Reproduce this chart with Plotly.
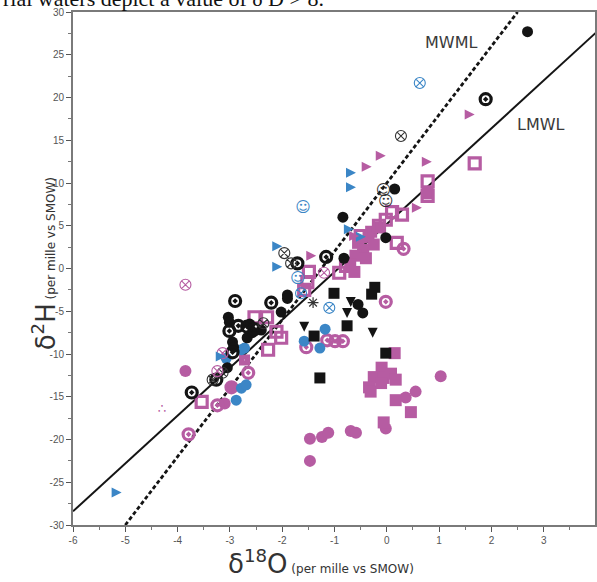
import plotly.graph_objects as go

# ---- isotope data (delta 18O, delta 2H), grouped by marker style ----
black_dot_x = [2.69, 0.15, -0.84, -0.02, -0.82, -1.90, -1.90, -2.02, -0.55, -0.46, -3.03, -3.01, -2.95, -2.93, -3.05, -2.67, -2.57, -2.40, -2.62]
black_dot_y = [27.7, 9.3, 6.0, 3.6, 1.2, -3.1, -3.5, -5.1, -4.2, -5.2, -5.7, -6.3, -8.6, -9.2, -11.6, -8.1, -7.5, -7.2, -6.5]

black_ring_x = [1.89, -1.16, -1.71, -2.90, -2.21, -3.01, -2.84, -2.67, -2.53, -2.95, -3.26, -3.73]
black_ring_y = [19.8, 1.35, 0.6, -3.8, -4.0, -7.3, -6.7, -6.8, -7.1, -9.8, -13.0, -14.5]

black_cross_x = [0.27, -1.96, -1.83, -2.36, -3.14, -3.33]
black_cross_y = [15.5, 1.8, 0.6, -6.4, -12.2, -13.0]

blue_cross_x = [0.63, -1.64, -1.10]
blue_cross_y = [21.7, -2.9, -4.6]

pink_cross_x = [-3.85, -1.20, -3.14, -3.24]
pink_cross_y = [-1.9, -0.5, -9.9, -12.0]

black_face_x = [-0.06, -0.02]
black_face_y = [9.0, 7.7]

blue_face_x = [-1.60, -1.70]
blue_face_y = [7.0, -1.2]

pink_dot_x = [-3.85, -2.97, 1.03, 0.36, 0.55, -0.02, -1.47, -1.24, -1.12, -0.69, -0.59, -1.47, -3.10]
pink_dot_y = [-12.0, -13.9, -12.6, -15.1, -14.4, -18.7, -19.9, -19.7, -19.2, -19.0, -19.2, -22.5, -15.8]

pink_ring_x = [-0.02, -1.14, -0.99, -0.84, -1.54, -2.65, -3.79, -3.24, 0.32, -2.97]
pink_ring_y = [-3.9, -8.4, -8.5, -8.5, -9.2, -12.2, -19.4, -16.0, 2.3, -13.9]

pink_sq_x = [-0.10, -0.25, -0.06, 0.08, 0.17, -0.34, -0.31, -0.11, 0.15, 0.17, 0.46, -0.06,
             -0.55, -0.45, -0.35, -0.60, -0.70, -0.40, -0.25, -0.30, -0.15, -0.62, 0.78]
pink_sq_y = [-11.6, -12.7, -12.8, -12.3, -13.0, -13.9, -14.4, -13.4, -9.9, -15.4, -16.8, -18.0,
             3.0, 2.2, 3.8, 1.5, 0.5, 1.2, 2.8, 4.3, 4.8, -0.4, 8.8]

pink_open_sq_x = [-0.91, -0.78, -0.50, -0.15, 0.10, 0.29, -0.02, 0.19, 1.68, 0.78, 0.78,
                  -2.53, -2.29, -2.11, -2.02, -2.27, -3.54, -1.52, -1.58, -1.49]
pink_open_sq_y = [-0.5, 0.3, 3.8, 5.0, 6.6, 6.3, 5.7, 3.0, 12.3, 10.2, 8.5,
                  -5.7, -5.7, -7.4, -8.1, -9.5, -15.6, -1.6, -2.5, -0.4]

pink_dot_sq_x = [-2.72]
pink_dot_sq_y = [-10.7]

black_sq_x = [-1.01, -0.23, -0.29, -0.76, -1.39, -0.02, -1.28]
black_sq_y = [-2.9, -2.2, -3.0, -6.7, -7.9, -9.9, -12.8]

black_down_x = [-0.69, -0.76, -1.58, -0.27]
black_down_y = [-4.5, -5.8, -7.4, -8.1]

blue_dot_x = [-1.18, -1.58, -1.28, -2.78, -2.72, -3.07, -2.78, -2.69, -2.88]
blue_dot_y = [-7.1, -8.5, -9.3, -9.5, -9.3, -10.5, -14.0, -13.6, -15.4]

blue_arrow_x = [-0.59, -0.59, -0.63, -2.00, -2.00, -5.07, -0.40, -3.08]
blue_arrow_y = [11.2, 9.5, 4.6, 2.6, 0.2, -26.2, 3.7, -10.3]

pink_arrow_x = [-0.02, 0.86, -0.29, 0.67, 1.68, -1.35, -0.53]
pink_arrow_y = [13.2, 12.5, 11.9, 7.1, 18.0, 1.5, 3.8]

black_star_x = [-1.41]
black_star_y = [-4.0]

pink_tri_x = [-4.30]
pink_tri_y = [-16.5]

# meteoric water lines: delta2H = slope * delta18O + intercept
lmwl = dict(slope=5.6, intercept=5.2, x=[-6.0, 4.0])
mwml = dict(slope=8.0, intercept=10.0, x=[-5.0, 2.5])

x_ticks = [-6, -5, -4, -3, -2, -1, 0, 1, 2, 3]
y_ticks = [-30, -25, -20, -15, -10, -5, 0, 5, 10, 15, 20, 25, 30]

PINK = "#b65ca2"
BLUE = "#3b86c6"
BLACK = "#141414"

fig = go.Figure()

for line, dash, width in [(lmwl, "solid", 2), (mwml, "4px,2.5px", 2.8)]:
    ys = [line["slope"] * v + line["intercept"] for v in line["x"]]
    fig.add_trace(go.Scatter(x=line["x"], y=ys, mode="lines",
                             line=dict(color=BLACK, width=width, dash=dash),
                             hoverinfo="skip", showlegend=False))


def pts(x, y, symbol, color, size=11, lw=0, lc=None, fill=None):
    fig.add_trace(go.Scatter(
        x=x, y=y, mode="markers", showlegend=False,
        marker=dict(symbol=symbol, size=size,
                    color=fill if fill is not None else color,
                    line=dict(width=lw, color=lc if lc else color))))


pts(pink_dot_x, pink_dot_y, "circle", PINK, size=12)
pts(pink_sq_x, pink_sq_y, "square", PINK, size=12)
pts(pink_open_sq_x, pink_open_sq_y, "square-open", PINK, size=11, lw=3.2)
pts(pink_dot_sq_x, pink_dot_sq_y, "square-dot", PINK, size=11, lw=0)
pts(pink_ring_x, pink_ring_y, "circle-open-dot", PINK, size=11, lw=3.2)
pts(blue_dot_x, blue_dot_y, "circle", BLUE, size=11)
pts(black_sq_x, black_sq_y, "square", BLACK, size=11)
pts(black_dot_x, black_dot_y, "circle", BLACK, size=11)
pts(black_ring_x, black_ring_y, "circle-open-dot", BLACK, size=11, lw=3.2)
pts(black_cross_x, black_cross_y, "circle-x-open", "#333333", size=11, lw=1.1)
pts(blue_cross_x, blue_cross_y, "circle-x-open", BLUE, size=11, lw=1.1)
pts(pink_cross_x, pink_cross_y, "circle-x-open", PINK, size=11, lw=1.1)
pts(blue_arrow_x, blue_arrow_y, "arrow-right", BLUE, size=10)
pts(pink_arrow_x, pink_arrow_y, "arrow-right", PINK, size=10)
pts(black_down_x, black_down_y, "arrow-down", BLACK, size=10)
pts(black_star_x, black_star_y, "asterisk-open", "#333333", size=9, lw=1.2)

# face and tri-dot symbols drawn as text glyphs
for gx, gy, glyph, col, sz in [(black_face_x, black_face_y, "☺", "#333333", 15),
                                (blue_face_x, blue_face_y, "☺", BLUE, 15),
                                (pink_tri_x, pink_tri_y, "∴", PINK, 13)]:
    fig.add_trace(go.Scatter(x=gx, y=gy, mode="text", text=[glyph] * len(gx),
                             textfont=dict(color=col, size=sz, family="DejaVu Sans"),
                             showlegend=False, hoverinfo="skip"))

axis_common = dict(showgrid=False, zeroline=False, showline=True, mirror=True,
                   linecolor="#7a7a7a", linewidth=2, ticks="outside", ticklen=5,
                   tickwidth=1.3, tickcolor="#555555",
                   tickfont=dict(family="Liberation Sans", size=10, color="#555555"),
                   minor=dict(ticks="outside", ticklen=3, tickwidth=1, tickcolor="#777777"))

fig.update_xaxes(range=[-6, 3.98], tickvals=x_ticks, ticktext=[str(v) for v in x_ticks],
                 minor_dtick=0.5, **axis_common)
fig.update_yaxes(range=[-30, 30], tickvals=y_ticks, ticktext=[str(v) for v in y_ticks],
                 minor_dtick=2.5, **axis_common)

fig.add_annotation(x=1.22, y=26.4, text="MWML", showarrow=False,
                   font=dict(family="DejaVu Sans", size=16, color="#3a3a3a"))
fig.add_annotation(x=2.95, y=16.8, text="LMWL", showarrow=False,
                   font=dict(family="DejaVu Sans", size=16, color="#3a3a3a"))

fig.add_annotation(xref="paper", yref="paper", x=0.475, y=-0.078, yshift=-16, showarrow=False,
                   text="δ<sup>18</sup>O<span style='font-size:12px'> (per mille vs SMOW)</span>",
                   font=dict(family="DejaVu Sans", size=26, color="#333333"))
fig.add_annotation(xref="paper", yref="paper", x=-0.092, y=0.51, showarrow=False, textangle=-90,
                   text="δ<sup>2</sup>H<span style='font-size:12px'> (per mille vs SMOW)</span>",
                   font=dict(family="DejaVu Sans", size=26, color="#333333"))

# running text of the page above the chart
fig.add_annotation(xref="paper", yref="paper", x=-0.137, y=1.0, xanchor="left", yanchor="bottom",
                   yshift=-1, showarrow=False, text="rial waters depict a value of δ D > 8.",
                   font=dict(family="Liberation Serif", size=22, color="#111111"))

fig.update_layout(width=597, height=582, margin=dict(l=73, r=0, t=12, b=57),
                  plot_bgcolor="white", paper_bgcolor="white")

fig.write_html("out.html")
